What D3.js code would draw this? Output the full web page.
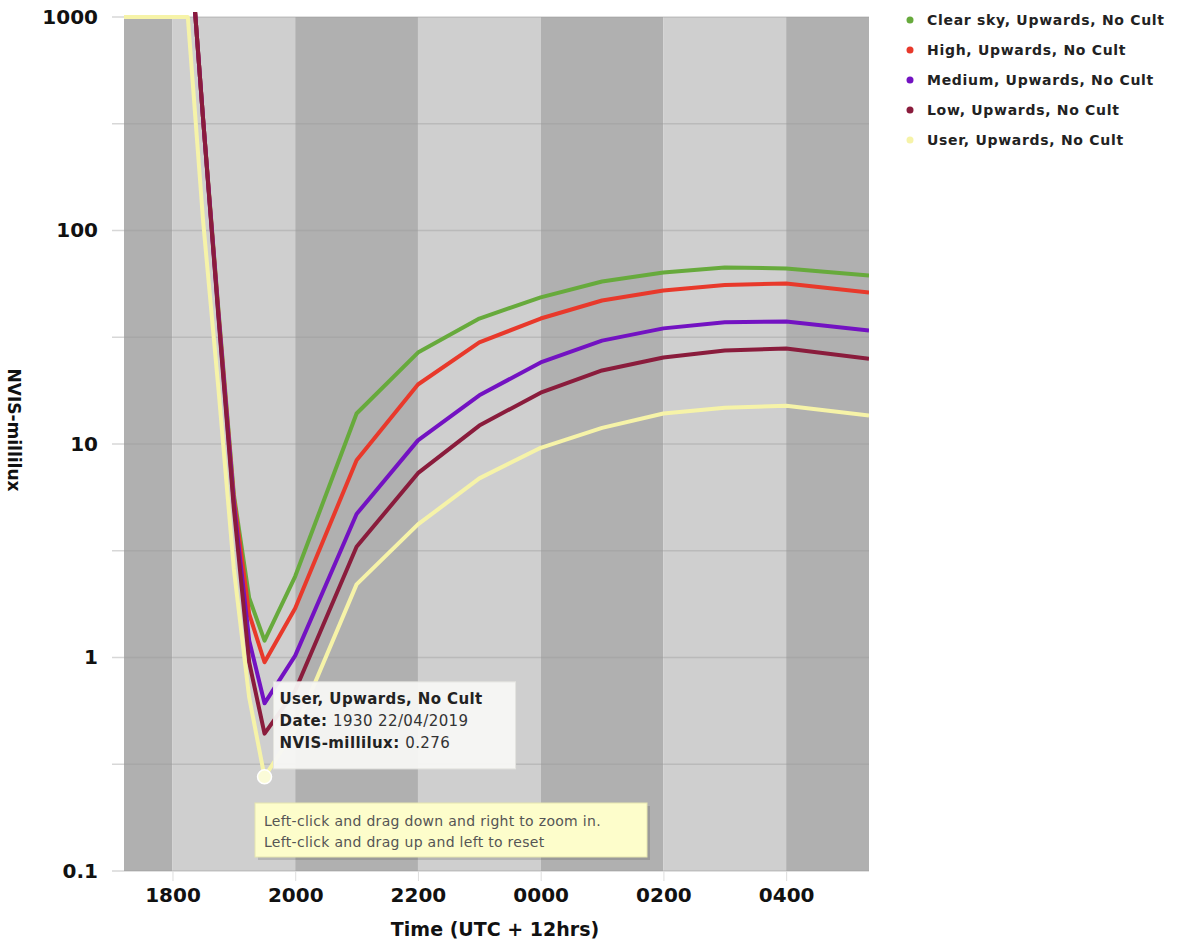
<!DOCTYPE html>
<html>
<head>
<meta charset="utf-8">
<script src="https://cdn.jsdelivr.net/npm/d3@7"></script>
<style>
  body { margin: 0; background: #fff; }
  text { font-family: "DejaVu Sans", Verdana, sans-serif; }
</style>
</head>
<body>
<svg width="1187" height="946"></svg>
<script>
// hours after midnight of 22/04 (values past 24 are the next morning)
const hours = [17.21, 17.5, 17.75, 18, 18.25, 18.5, 18.75, 19, 19.25, 19.5, 20, 21, 22, 23, 24, 25, 26, 27, 28, 29.35];

const clearSky = [40000, 22000, 12000, 6500, 3000, 330, 42, 5.8, 1.9, 1.2, 2.4, 13.9, 26.8, 38.7, 48.6, 57.7, 63.6, 67.1, 66.4, 61.5];
const high     = [40000, 22000, 12000, 6500, 3000, 330, 41, 5.6, 1.6, 0.95, 1.7, 8.4, 19.0, 29.9, 38.7, 47, 52.4, 55.5, 56.5, 51.3];
const medium   = [40000, 22000, 12000, 6500, 3000, 330, 40, 5.3, 1.2, 0.61, 1.02, 4.7, 10.4, 16.9, 24.1, 30.5, 34.8, 37.2, 37.5, 34];
const low      = [40000, 22000, 12000, 6500, 3000, 330, 39, 5.0, 0.95, 0.44, 0.7, 3.3, 7.3, 12.2, 17.4, 22.1, 25.4, 27.4, 28, 25.1];
const user     = [1000, 1000, 1000, 1000, 1000, 110, 18, 2.6, 0.65, 0.276, 0.46, 2.2, 4.2, 6.9, 9.6, 11.9, 13.9, 14.8, 15.1, 13.6];

const seriesNames = ['Clear sky, Upwards, No Cult', 'High, Upwards, No Cult', 'Medium, Upwards, No Cult', 'Low, Upwards, No Cult', 'User, Upwards, No Cult'];
const seriesColors = ['#67aa3c', '#e8392b', '#7312c2', '#8a1c3c', '#f6f3a8'];
const seriesValues = [clearSky, high, medium, low, user];

const xTicks = [18, 20, 22, 24, 26, 28];
const yTicks = [0.1, 1, 10, 100, 1000];
const yGrid = [0.1, 0.316, 1, 3.16, 10, 31.6, 100, 316, 1000];
const bandEdges = [17.21, 18, 20, 22, 24, 26, 28, 29.35];

const svg = d3.select('svg');
const plotL = 124, plotR = 869, plotT = 17, plotB = 871;

const x = d3.scaleLinear().domain([17.21, 29.35]).range([plotL, plotR]);
const y = d3.scaleLog().domain([0.1, 1000]).range([plotB, plotT]);

const fmtHour = h => String(h % 24).padStart(2, '0') + '00';

// alternating time bands
svg.append('g')
  .selectAll('rect')
  .data(d3.pairs(bandEdges))
  .join('rect')
  .attr('x', d => x(d[0]))
  .attr('y', plotT)
  .attr('width', d => x(d[1]) - x(d[0]))
  .attr('height', plotB - plotT)
  .attr('fill', (d, i) => (i % 2 === 0 ? '#b0b0b0' : '#cfcfcf'));

// horizontal grid
svg.append('g')
  .selectAll('line')
  .data(yGrid)
  .join('line')
  .attr('x1', plotL - 12)
  .attr('x2', plotR)
  .attr('y1', d => y(d))
  .attr('y2', d => y(d))
  .attr('stroke', '#9a9a9a')
  .attr('stroke-opacity', 0.4)
  .attr('stroke-width', 1.5);

// y axis
const yAxis = svg.append('g')
  .attr('transform', `translate(${plotL - 12},0)`)
  .call(d3.axisLeft(y).tickValues(yTicks).tickSize(0).tickPadding(14).tickFormat(d => String(d)));
yAxis.select('.domain').remove();
yAxis.selectAll('text')
  .attr('font-size', 20)
  .attr('font-weight', 'bold')
  .attr('fill', '#111');

// x axis
const xAxis = svg.append('g')
  .attr('transform', `translate(0,${plotB})`)
  .call(d3.axisBottom(x).tickValues(xTicks).tickSize(10).tickPadding(7).tickFormat(fmtHour));
xAxis.select('.domain').remove();
xAxis.selectAll('line').attr('stroke', '#ddd');
xAxis.selectAll('text')
  .attr('font-size', 20)
  .attr('font-weight', 'bold')
  .attr('fill', '#111');

svg.append('text')
  .attr('x', 495)
  .attr('y', 936)
  .attr('text-anchor', 'middle')
  .attr('font-size', 19)
  .attr('font-weight', 'bold')
  .attr('fill', '#111')
  .text('Time (UTC + 12hrs)');

svg.append('text')
  .attr('transform', 'translate(8,430) rotate(90)')
  .attr('text-anchor', 'middle')
  .attr('font-size', 17)
  .attr('font-weight', 'bold')
  .attr('fill', '#111')
  .text('NVIS-millilux');

// lines
svg.append('clipPath')
  .attr('id', 'plot-clip')
  .append('rect')
  .attr('x', plotL)
  .attr('y', plotT - 5)
  .attr('width', plotR - plotL)
  .attr('height', plotB - plotT + 5);

const line = d3.line()
  .x((d, i) => x(hours[i]))
  .y(d => y(d));

svg.append('g')
  .attr('clip-path', 'url(#plot-clip)')
  .selectAll('path')
  .data(seriesValues)
  .join('path')
  .attr('d', line)
  .attr('fill', 'none')
  .attr('stroke', (d, i) => seriesColors[i])
  .attr('stroke-width', 4)
  .attr('stroke-linejoin', 'round');

// legend
const legend = svg.append('g')
  .selectAll('g')
  .data(seriesNames)
  .join('g')
  .attr('transform', (d, i) => `translate(910,${20 + i * 30})`);
legend.append('circle')
  .attr('r', 3.5)
  .attr('fill', (d, i) => seriesColors[i]);
legend.append('text')
  .attr('x', 17)
  .attr('dy', '0.35em')
  .attr('font-size', 14)
  .attr('font-weight', 'bold')
  .attr('letter-spacing', 0.7)
  .attr('fill', '#222')
  .text(d => d);

// hovered point + tooltip
const hi = 9;
const px = x(hours[hi]), py = y(user[hi]);
svg.append('circle')
  .attr('cx', px)
  .attr('cy', py)
  .attr('r', 7)
  .attr('fill', '#fbfbd8')
  .attr('stroke', '#fff')
  .attr('stroke-width', 1.5);

const tip = svg.append('g').attr('transform', `translate(${px + 9},${py - 95})`);
tip.append('rect')
  .attr('width', 242)
  .attr('height', 87)
  .attr('fill', '#f7f7f4')
  .attr('fill-opacity', 0.95)
  .attr('stroke', '#e4e4e0');
const tipLines = [
  [seriesNames[4], ''],
  ['Date: ', '1930 22/04/2019'],
  ['NVIS-millilux: ', String(user[hi])]
];
tipLines.forEach((l, i) => {
  const t = tip.append('text')
    .attr('x', 6)
    .attr('y', 22 + i * 22)
    .attr('font-size', 15)
    .attr('letter-spacing', 0.4)
    .attr('fill', '#222');
  t.append('tspan').attr('font-weight', 'bold').text(l[0]);
  t.append('tspan').attr('fill', '#333').text(l[1]);
});

// zoom hint
const hint = svg.append('g').attr('transform', 'translate(255,803)');
hint.append('rect')
  .attr('x', 3).attr('y', 3)
  .attr('width', 392).attr('height', 54)
  .attr('fill', '#000').attr('fill-opacity', 0.12);
hint.append('rect')
  .attr('width', 392)
  .attr('height', 54)
  .attr('fill', '#fdfdcb')
  .attr('stroke', '#e6e6b0');
['Left-click and drag down and right to zoom in.', 'Left-click and drag up and left to reset']
  .forEach((s, i) => {
    hint.append('text')
      .attr('x', 9)
      .attr('y', 23 + i * 21)
      .attr('font-size', 14)
      .attr('letter-spacing', 0.3)
      .attr('fill', '#555')
      .text(s);
  });
</script>
</body>
</html>
